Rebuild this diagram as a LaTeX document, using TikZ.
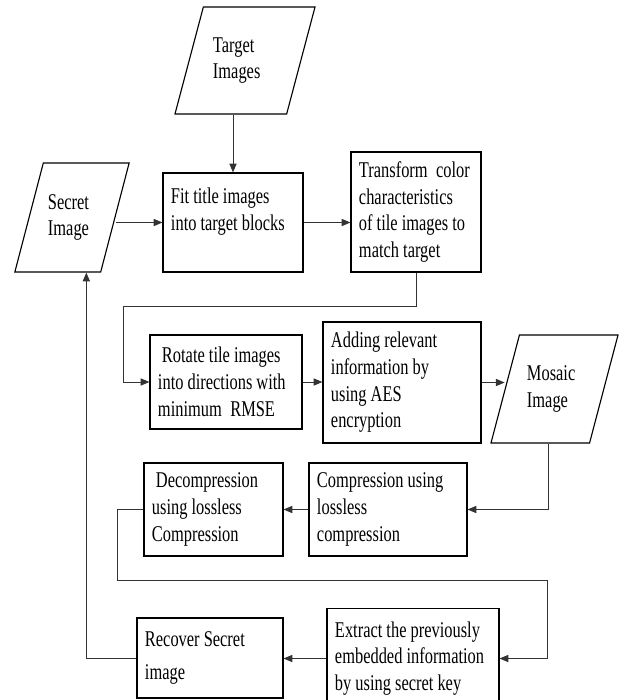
\documentclass[tikz,border=0pt]{standalone}
\usepackage{fontspec}
\setmainfont{Liberation Serif}[FakeStretch=0.73]
\usepackage{tikz}
\usetikzlibrary{positioning,arrows.meta,shapes.geometric,calc}

\newcommand{\flowfont}{\fontsize{16}{19}\selectfont\spaceskip=2.9pt plus 1pt minus 0.5pt\relax}

\begin{document}
\begin{tikzpicture}[
  x=0.025cm, y=-0.025cm,
  proc/.style 2 args={rectangle, draw=black, line width=0.8pt, font=\flowfont,
               inner xsep=0.2cm, align=flush left, text width=#1, minimum height=#2},
  data/.style={trapezium, trapezium left angle=63, trapezium right angle=117,
               trapezium stretches body, draw=black, line width=0.8pt,
               font=\flowfont, align=flush left},
  arr/.style={-{Triangle[length=0.22cm,width=0.18cm]}, line width=0.7pt, draw=black!80},
]
\useasboundingbox (0,0) rectangle (620,700);

\node[data, text width=1.6cm, minimum width=3.5cm, minimum height=2.675cm]
     (target) at (245,60.5) {Target\\Images};
\node[data, text width=1.2cm, minimum width=2.85cm, minimum height=2.725cm]
     (secret) at (72,217.5) {Secret\\Image};
\node[data, text width=1.375cm, minimum width=3.175cm, minimum height=2.7cm]
     (mosaic) at (554.5,389) {Mosaic\\Image};

\node[proc={3.1cm}{2.475cm}]  (fit)       at (233,222.5) {Fit title images\\into target blocks\\\mbox{}};
\node[proc={2.85cm}{3.0cm}]   (transform) at (416,212)   {Transform\hspace{6pt}color\\characteristics\\of tile images to\\match target};
\node[proc={3.4cm}{2.35cm}]   (rotate)    at (226,382)   {\hspace{0.1cm}Rotate tile images\\into directions with\\minimum\hspace{6pt}RMSE};
\node[proc={3.55cm}{3.025cm}] (adding)    at (402,382.5) {Adding relevant\\information by\\using AES\\encryption};
\node[proc={3.55cm}{2.325cm}] (compr)     at (388,509.5) {Compression using\\lossless\\compression};
\node[proc={3.075cm}{2.325cm}](decomp)    at (213.5,509.5) {\hspace{0.1cm}Decompression\\using lossless\\Compression};
\node[proc={3.9cm}{2.5cm}]    (extract)   at (413,658.5) {Extract the previously\\embedded information\\by using secret key};
\node[proc={3.25cm}{2.0cm}]   (recover)   at (210,658)   {Recover Secret\\[4pt]image};

\coordinate (bendA) at (123,306);
\coordinate (bendB) at (117,580);
\coordinate (bendC) at (547,580);

\draw[arr] (fit.north |- target.south) -- (fit.north);
\draw[arr] (fit.west -| secret.east) -- (fit.west);
\draw[arr] (fit.east) -- (fit.east -| transform.west);
\draw[arr] (transform.south) |- (bendA) |- (rotate.west);
\draw[arr] (rotate.east) -- (rotate.east -| adding.west);
\draw[arr] (adding.east) -- (adding.east -| mosaic.west);
\draw[arr] ($(mosaic.bottom left corner)!0.58!(mosaic.bottom right corner)$) |- (compr.east);
\draw[arr] (compr.west) -- (compr.west -| decomp.east);
\draw[arr] (decomp.west) -| (bendB) -- (bendC) |- (extract.east);
\draw[arr] (extract.west) -- (extract.west -| recover.east);
\draw[arr] (recover.west) -| ($(secret.bottom left corner)!0.83!(secret.bottom right corner)$);

\end{tikzpicture}
\end{document}
